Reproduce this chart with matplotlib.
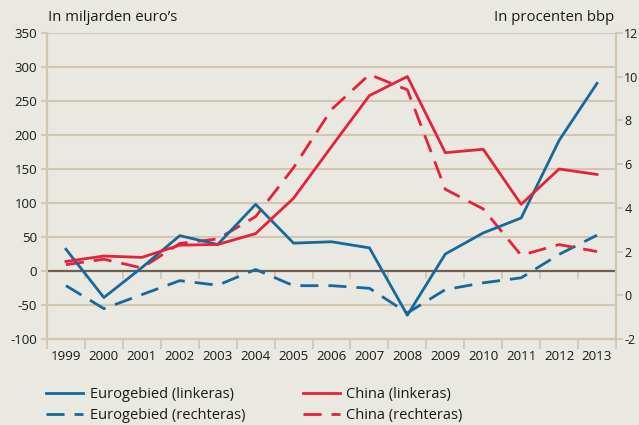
import matplotlib
matplotlib.use("Agg")
import matplotlib.pyplot as plt
import numpy as np

years = ["1999", "2000", "2001", "2002", "2003", "2004", "2005", "2006",
         "2007", "2008", "2009", "2010", "2011", "2012", "2013"]
euro_left = [32, -39, 5, 52, 39, 98, 41, 43, 34, -65, 25, 56, 78, 192, 276]
china_left = [14, 22, 20, 38, 39, 55, 107, 183, 258, 286, 174, 179, 98, 150, 142]
euro_right = [0.44, -0.61, 0.03, 0.67, 0.46, 1.18, 0.44, 0.44, 0.32, -0.81,
              0.26, 0.57, 0.80, 1.87, 2.75]
china_right = [1.4, 1.65, 1.25, 2.37, 2.58, 3.6, 5.84, 8.5, 10.1, 9.4,
               4.85, 3.95, 1.83, 2.32, 2.0]
left_ticks = [-100, -50, 0, 50, 100, 150, 200, 250, 300, 350]
right_ticks = [-2, 0, 2, 4, 6, 8, 10, 12]

BG = "#e9e8e1"
TAN = "#d3c6b1"
BLUE = "#15699c"
RED = "#e6223a"
TXT = "#1a1a1a"

plt.rcParams["font.family"] = ["Open Sans", "DejaVu Sans"]

fig = plt.figure(figsize=(6.39, 4.25), dpi=100, facecolor=BG)
ax = fig.add_axes([47/639, 1-339/425, (616-47)/639, (339-33)/425])
ax.set_facecolor(BG)
ax2 = ax.twinx()

x = np.arange(len(years)) + 0.5
n = len(years)

ax.set_xlim(0, n)
ax.set_ylim(-100, 350)
ax2.set_ylim(-2, 12)

# gridlines
for v in left_ticks:
    if v == 0:
        continue
    ax.axhline(v, color=TAN, lw=1.5, zorder=1)
ax.axhline(0, color="#6e5f50", lw=1.6, zorder=2)
for i in range(1, n):
    ax.plot([i, i], [0, -10], color=TAN, lw=1.3, zorder=1, clip_on=False)

lw = 2.0
dash = (6.5, 3.6)
ax2.plot(x, euro_right, color=BLUE, lw=lw, dashes=dash, zorder=3)
ax2.plot(x, china_right, color=RED, lw=lw, dashes=dash, zorder=3)
ax2.plot(x, euro_left, color=BLUE, lw=lw, zorder=4, transform=ax.transData)
ax2.plot(x, china_left, color=RED, lw=lw, zorder=4, transform=ax.transData)

for a in (ax, ax2):
    for s in a.spines.values():
        s.set_color(TAN)
        s.set_linewidth(1.5)
    a.spines["top"].set_visible(False)

ax.set_yticks(left_ticks)
ax.set_yticklabels([str(v) for v in left_ticks])
ax.tick_params(axis="y", length=4, width=1.3, color=TAN, labelsize=9.5,
               labelcolor=TXT, pad=3)
ax2.set_yticks(right_ticks)
ax2.set_yticklabels([str(v) for v in right_ticks])
ax2.tick_params(axis="y", length=5, width=1.3, color=TAN, labelsize=9,
                labelcolor=TXT, pad=1)

ax.set_xticks(np.arange(0, n + 1))
ax.set_xticklabels([])
ax.set_xticks(x, minor=True)
ax.set_xticklabels(years, minor=True)
ax.tick_params(axis="x", which="major", length=7, width=1.3, color=TAN)
ax.tick_params(axis="x", which="minor", length=0, labelsize=9.6,
               labelcolor=TXT, pad=8)

fig.text(48/639, 1-21/425, "In miljarden euro\u2019s", fontsize=10.7,
         color=TXT, ha="left", va="baseline")
fig.text(614/639, 1-21/425, "In procenten bbp", fontsize=10.7,
         color=TXT, ha="right", va="baseline")

from matplotlib.lines import Line2D
h1 = Line2D([], [], color=BLUE, lw=lw)
h2 = Line2D([], [], color=BLUE, lw=lw, dashes=dash)
h3 = Line2D([], [], color=RED, lw=lw)
h4 = Line2D([], [], color=RED, lw=lw, dashes=dash)
leg = fig.legend([h1, h2, h3, h4],
                 ["Eurogebied (linkeras)", "Eurogebied (rechteras)",
                  "China (linkeras)", "China (rechteras)"],
                 ncol=2, loc="upper left", bbox_to_anchor=(40/639, 1-381/425),
                 frameon=False, fontsize=10.5, handlelength=2.55,
                 handletextpad=0.45, columnspacing=3.95, labelspacing=0.42,
                 labelcolor=TXT, borderaxespad=0, borderpad=0.4)

fig.savefig("out.png", dpi=100, facecolor=BG)
